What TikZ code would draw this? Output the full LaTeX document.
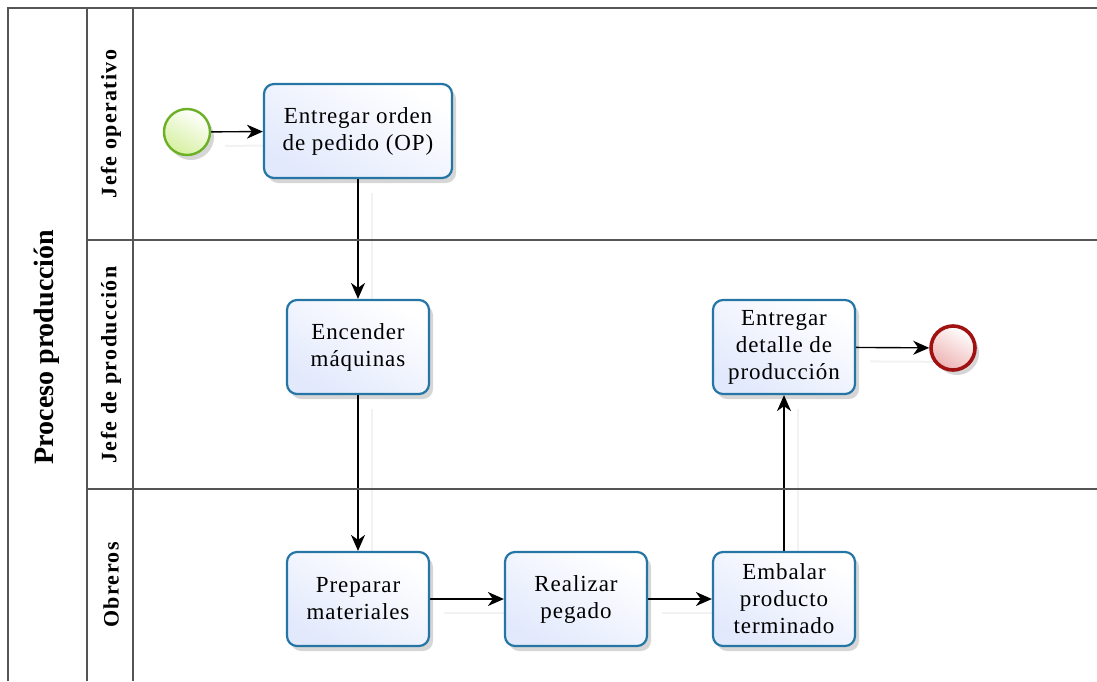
\documentclass[tikz,border=0pt]{standalone}
\usepackage{fontspec}
\setmainfont{Liberation Serif}
\newfontfamily\taskfont[LetterSpace=4]{Liberation Serif}
\newfontfamily\lanefont[LetterSpace=6]{Liberation Serif}
\usetikzlibrary{arrows.meta,shadows,backgrounds}

\definecolor{taskline}{RGB}{38,118,165}
\definecolor{taskfill}{RGB}{226,233,252}
\definecolor{startline}{RGB}{108,176,38}
\definecolor{startfill}{RGB}{214,240,160}
\definecolor{endline}{RGB}{160,18,18}
\definecolor{endfill}{RGB}{238,178,178}
\definecolor{laneline}{RGB}{85,85,85}

\tikzset{
  lanerule/.style={draw=laneline, line width=1.4pt},
  softshadow/.style={drop shadow={shadow xshift=4pt, shadow yshift=-5pt, fill=black, opacity=0.16}},
  task/.style={rectangle, rounded corners=10pt, draw=taskline, line width=2.2pt,
    top color=white, bottom color=taskfill, shading angle=-30,
    minimum width=142pt, minimum height=94pt, align=center,
    font=\taskfont\fontsize{23}{27}\selectfont, softshadow},
  startev/.style={circle, draw=startline, line width=2.4pt, minimum size=46pt,
    inner sep=0pt, top color=white, bottom color=startfill, shading angle=-30, softshadow},
  endev/.style={circle, draw=endline, line width=3.6pt, minimum size=44pt,
    inner sep=0pt, top color=white, bottom color=endfill, shading angle=-30, softshadow},
  flow/.style={draw=black, line width=1.4pt,
    -{Stealth[length=16pt, width=14pt, inset=5pt]},
    preaction={draw=black!5, line width=2pt, -, transform canvas={shift={(14pt,-14pt)}}}},
  lanelabel/.style={rotate=90, font=\lanefont\fontsize{22}{26}\bfseries\selectfont},
  poollabel/.style={rotate=90, font=\fontsize{28}{32}\bfseries\selectfont}
}

\begin{document}
\begin{tikzpicture}[x=1pt, y=-1pt]
  \useasboundingbox (0,0) rectangle (1097,681);

  % events and tasks
  \node[startev] (start) at (187,132) {};
  \node[task, minimum width=188pt] (op) at (358,131) {Entregar orden\\de pedido (OP)};
  \node[task] (maq) at (358,347) {Encender\\máquinas};
  \node[task] (det) at (784,347) {Entregar\\detalle de\\producción};
  \node[endev] (end) at (953,348) {};
  \node[task] (mat) at (358,599) {Preparar\\materiales};
  \node[task] (peg) at (576,599) {Realizar\\pegado};
  \node[task] (emb) at (784,599) {Embalar\\producto\\terminado};

  % sequence flows, kept underneath the shapes
  \begin{pgfonlayer}{background}
    \fill[white] (0,0) rectangle (1097,681);
    \draw[flow] (start) -- (op);
    \draw[flow] (op) -- (maq);
    \draw[flow] (maq) -- (mat);
    \draw[flow] (mat) -- (peg);
    \draw[flow] (peg) -- (emb);
    \draw[flow] (emb) -- (det);
    \draw[flow] (det) -- (end);
  \end{pgfonlayer}

  % pool and lanes
  \draw[lanerule] (8,681) -- (8,8) -- (1097,8);
  \draw[lanerule] (87,8) -- (87,681);
  \draw[lanerule] (133,8) -- (133,681);
  \draw[lanerule] (87,240) -- (1097,240);
  \draw[lanerule] (87,489) -- (1097,489);

  \node[poollabel] (pool) at (47,347) {Proceso producción};
  \node[lanelabel] (lane1) at (111,124) {Jefe operativo};
  \node[lanelabel] (lane2) at (111,365) {Jefe de producción};
  \node[lanelabel] (lane3) at (111,585) {Obreros};
\end{tikzpicture}
\end{document}
